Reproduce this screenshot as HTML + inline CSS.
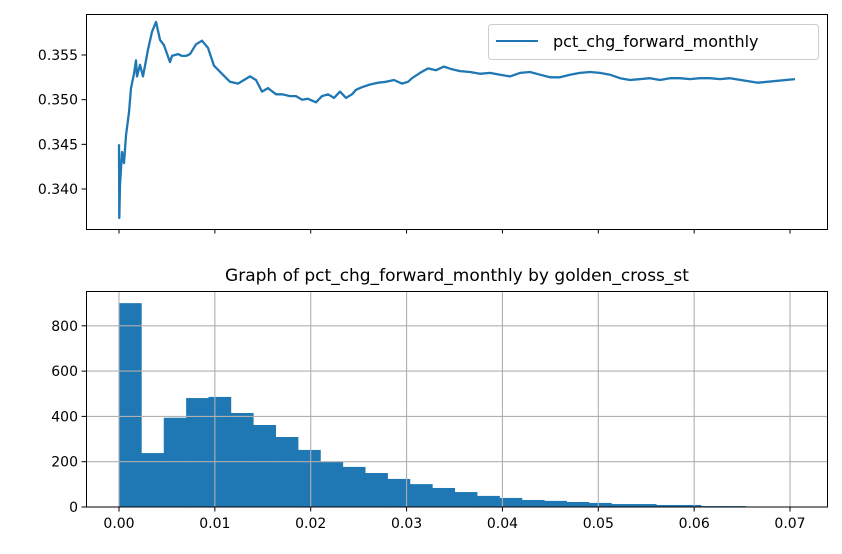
<!DOCTYPE html>
<html><head><meta charset="utf-8"><style>
html,body{margin:0;padding:0;background:#fff;}
svg{display:block;font-family:"DejaVu Sans","Liberation Sans",sans-serif;}
</style></head><body>
<svg id="chart" width="842" height="554" xmlns="http://www.w3.org/2000/svg">
<g id="topPanel"></g>
<g id="botPanel"></g>
</svg>
<script>
// Top line chart data (observation index, value)
const lineIdx = [0,0.3,1,3,5,7,10,12,15,17,18,21,24,29,33,37,41,45,51,53,59,63,67,71,77,83,89,95,103,111,119,125,131,137,143,149,157,163,171,177,183,189,197,203,209,215,221,227,233,237,243,251,259,267,275,283,289,293,301,309,317,325,333,341,351,361,371,381,391,401,411,421,431,441,451,461,471,481,491,501,511,521,531,541,551,561,571,581,591,601,611,639,676];
const lineVal = [0.3450,0.33675,0.34045,0.34414,0.3429,0.3460,0.3486,0.3513,0.3529,0.3544,0.3526,0.3539,0.3526,0.3556,0.3576,0.3587,0.3567,0.3561,0.3542,0.3549,0.3551,0.3549,0.3549,0.3551,0.3562,0.3566,0.3558,0.3538,0.3529,0.3520,0.3518,0.3522,0.3526,0.3522,0.3509,0.3513,0.3506,0.3506,0.3504,0.3504,0.3500,0.3501,0.3497,0.3504,0.3506,0.3502,0.3509,0.3502,0.3506,0.3511,0.3514,0.3517,0.3519,0.3520,0.3522,0.3518,0.3520,0.3524,0.3530,0.3535,0.3533,0.3537,0.3534,0.3532,0.3531,0.3529,0.3530,0.3528,0.3526,0.3530,0.3531,0.3528,0.3525,0.3525,0.3528,0.3530,0.3531,0.3530,0.3528,0.3524,0.3522,0.3523,0.3524,0.3522,0.3524,0.3524,0.3523,0.3524,0.3524,0.3523,0.3524,0.3519,0.3523];
const topYTicks = [0.340,0.345,0.350,0.355];
const topYLabels = ["0.340","0.345","0.350","0.355"];
// Histogram data
const binStart = 0.0;
const binWidth = 0.002335;
const binCounts = [900,238,394,481,486,415,362,309,252,200,177,150,124,101,84,66,49,40,31,27,22,18,13,13,9,9,4,4,1,1];
const xTicks = [0,0.01,0.02,0.03,0.04,0.05,0.06,0.07];
const xTickLabels = ["0.00","0.01","0.02","0.03","0.04","0.05","0.06","0.07"];
const botYTicks = [0,200,400,600,800];
const botYLabels = ["0","200","400","600","800"];

const NS="http://www.w3.org/2000/svg";
function mk(tag,attrs,parent){const e=document.createElementNS(NS,tag);for(const k in attrs)e.setAttribute(k,attrs[k]);parent.appendChild(e);return e;}
const topG=document.getElementById('topPanel'), botG=document.getElementById('botPanel');
const C="#1f77b4";
const tx = i => 119 + i*(795-119)/676;
const ty = v => 55 - (v-0.355)*8933;
const bx = v => 119 + v*9586;
const by = c => 507 - c*0.2265;

// ---- top panel ----
xTicks.forEach(t=>{
  const l=mk('line',{x1:bx(t),x2:bx(t),y1:229,y2:233.5,stroke:'#000','stroke-width':1},topG);
  
  
});
topYTicks.forEach((t,i)=>{
  const l=mk('line',{x1:81.5,x2:86,y1:ty(t),y2:ty(t),stroke:'#000','stroke-width':1},topG);
  
  
  const tx2=mk('text',{x:78,y:ty(t)+5,'text-anchor':'end','font-size':'14',fill:'#000'},topG);
  tx2.textContent=topYLabels[i];
  
  
});
let d=lineIdx.map((x,i)=>(i?'L':'M')+tx(x).toFixed(1)+','+ty(lineVal[i]).toFixed(1)).join(' ');
const path=mk('path',{d:d,fill:'none',stroke:C,'stroke-width':2.3,'stroke-linejoin':'round'},topG);


const fr=mk('rect',{x:86.5,y:14.5,width:741,height:215,fill:'none',stroke:'#000','stroke-width':1},topG);


const lg=mk('g',{},topG);


mk('rect',{x:488.5,y:24.5,width:330,height:35,rx:3,fill:'#fff','fill-opacity':0.8,stroke:'#ccc','stroke-width':1},lg);
mk('line',{x1:496,x2:538,y1:41,y2:41,stroke:C,'stroke-width':2},lg);
const lt=mk('text',{x:553,y:47,'font-size':'16',fill:'#000'},lg);
lt.textContent='pct_chg_forward_monthly';



// ---- bottom panel ----
const title=mk('text',{x:457,y:281,'text-anchor':'middle','font-size':'17',fill:'#000'},botG);
title.textContent='Graph of pct_chg_forward_monthly by golden_cross_st';


binCounts.forEach((c,i)=>{
  const x0=bx(binStart+i*binWidth), x1=bx(binStart+(i+1)*binWidth);
  const r=mk('rect',{x:x0,y:by(c),width:x1-x0+0.3,height:507-by(c),fill:C},botG);
  
  
});
xTicks.forEach((t,i)=>{
  const g=mk('line',{x1:bx(t),x2:bx(t),y1:291,y2:507,stroke:'#b0b0b0','stroke-width':1.1},botG);
  
  
  const k=mk('line',{x1:bx(t),x2:bx(t),y1:507,y2:511.5,stroke:'#000','stroke-width':1},botG);
  
  
  const l=mk('text',{x:bx(t),y:528,'text-anchor':'middle','font-size':'14',fill:'#000'},botG);
  l.textContent=xTickLabels[i];
  
  
});
botYTicks.forEach((t,i)=>{
  if(t!==0){
    const g=mk('line',{x1:86,x2:828,y1:by(t),y2:by(t),stroke:'#b0b0b0','stroke-width':1.1},botG);
    
    
  }
  const k=mk('line',{x1:81.5,x2:86,y1:by(t),y2:by(t),stroke:'#000','stroke-width':1},botG);
  
  
  const l=mk('text',{x:78,y:by(t)+5,'text-anchor':'end','font-size':'14',fill:'#000'},botG);
  l.textContent=botYLabels[i];
  
  
});
const fr2=mk('rect',{x:86.5,y:291.5,width:741,height:215.5,fill:'none',stroke:'#000','stroke-width':1},botG);


</script>
</body></html>
